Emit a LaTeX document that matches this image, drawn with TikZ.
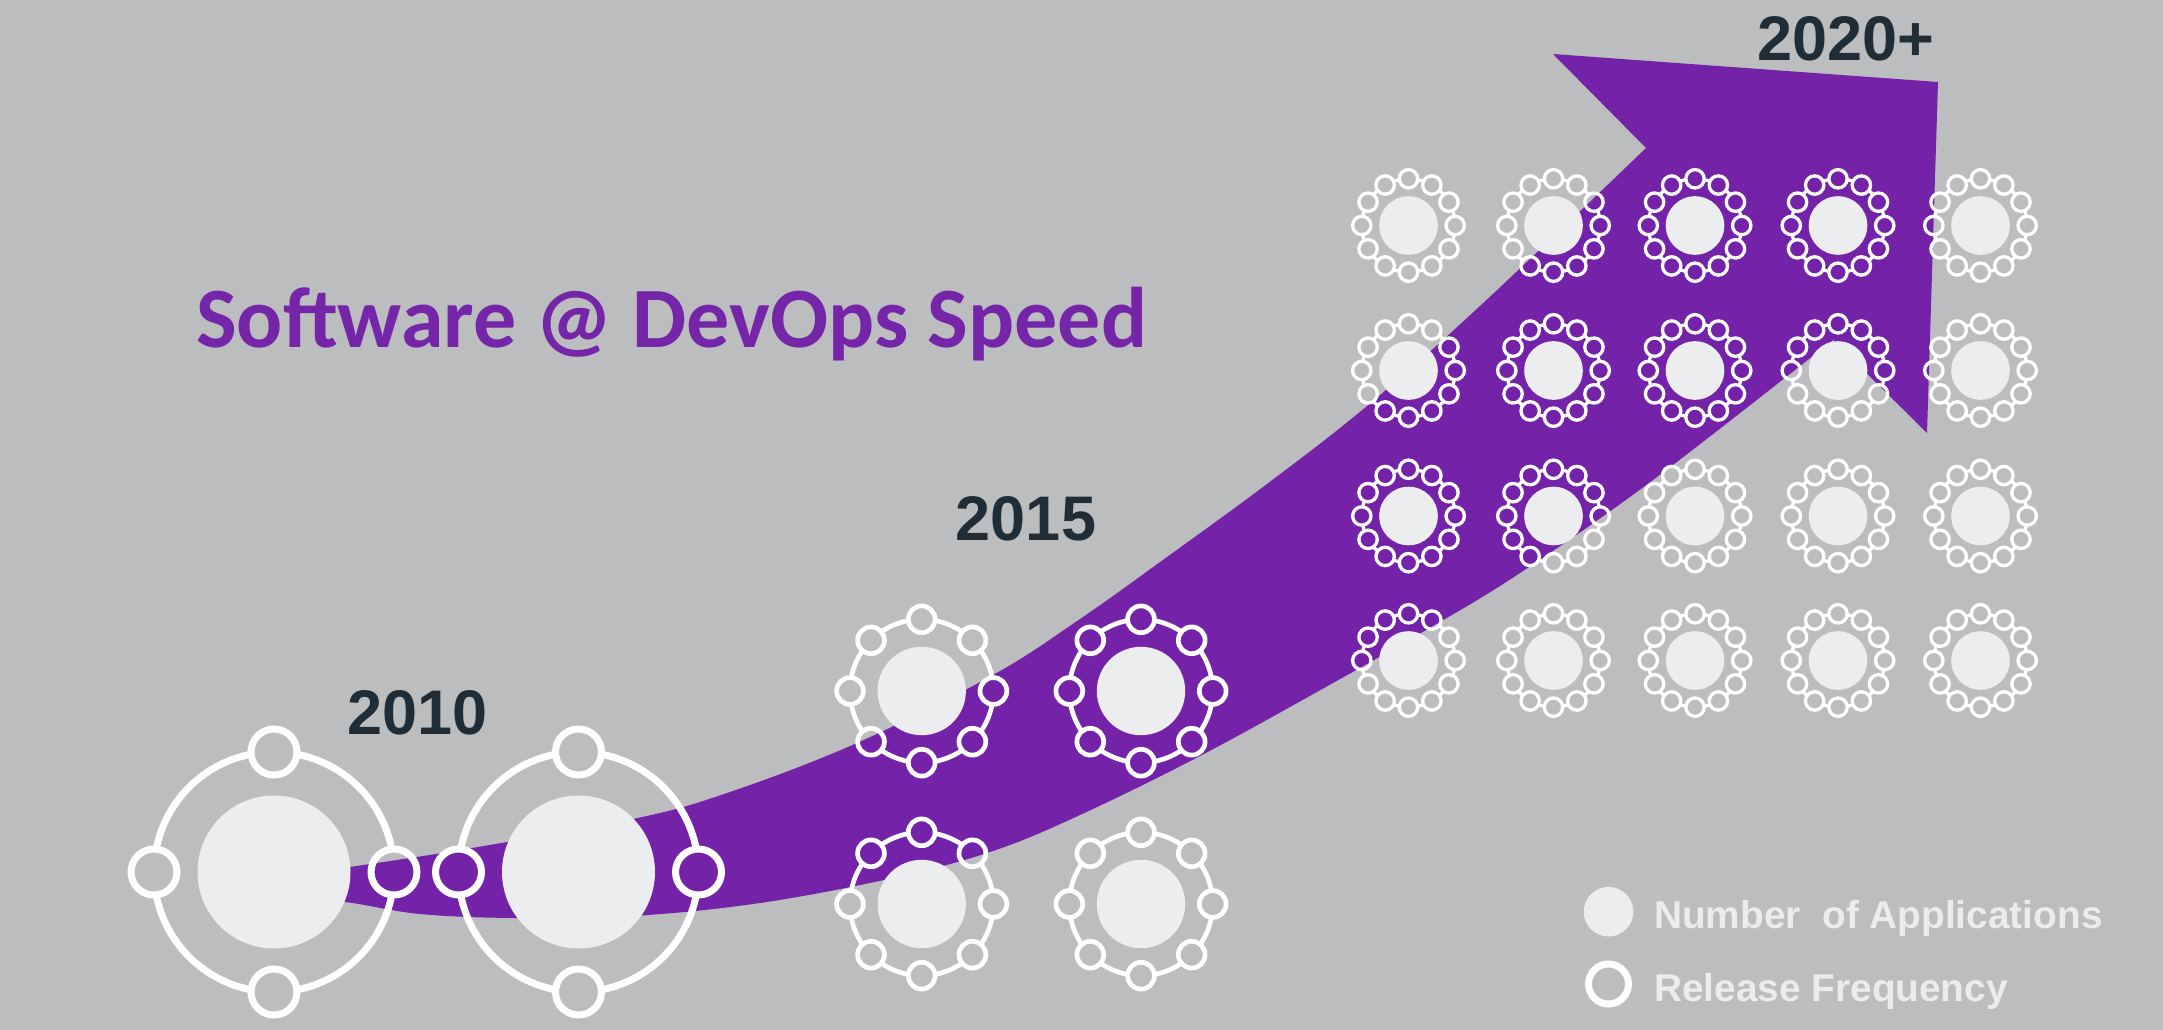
\documentclass[tikz,border=0pt]{standalone}
\usepackage{fontspec}
\setmainfont{Liberation Sans}
\newfontfamily\calib{Carlito}
\definecolor{bg}{RGB}{188,189,191}
\definecolor{apurple}{RGB}{116,35,169}
\definecolor{tpurple}{RGB}{117,38,168}
\definecolor{diskc}{RGB}{236,237,238}
\definecolor{yeartxt}{RGB}{33,45,54}
\definecolor{legtxt}{RGB}{235,236,237}
% name, x, y, N small circles, ring radius, small radius, disk radius, line width
\newcommand\devicon[8]{%
  \coordinate (#1) at (#2,#3);
  \fill[diskc] (#1) circle[radius=#7];
  \pgfmathsetmacro\icstep{360/#4}%
  \pgfmathsetmacro\icgap{2*asin(#6/(2*#5))}%
  \foreach \k in {1,...,#4}{%
    \pgfmathsetmacro\icA{(\k-1)*\icstep+\icgap}%
    \pgfmathsetmacro\icB{\k*\icstep-\icgap}%
    \pgfmathsetmacro\icC{\k*\icstep}%
    \draw[ringline,line width=#8] (#1) ++(\icA:#5) arc[start angle=\icA,end angle=\icB,radius=#5];
    \draw[ringline,line width=#8] (#1) ++(\icC:#5) circle[radius=#6];
  }%
}
\tikzset{
  ringline/.style={draw=white},
  yearlbl/.style={anchor=base,inner sep=0pt,text=yeartxt,font=\bfseries\fontsize{63}{63}\selectfont},
  leglbl/.style={anchor=base west,inner sep=0pt,text=legtxt,font=\bfseries\fontsize{38.8}{40}\selectfont},
}
\begin{document}
\begin{tikzpicture}[x=1pt,y=-1pt]
\useasboundingbox (0,0) rectangle (2163,1030);
\fill[bg] (0,0) rectangle (2163,1030);
% big curved arrow
\fill[apurple]
  plot[smooth,tension=0.6] coordinates {(260,881) (350,867) (460,850) (633,819) (727,793) (857,743) (993,675) (1080,619) (1167,557) (1267,484) (1367,406) (1480,306) (1646,148)}
  -- (1553,54) -- (1938,82) -- (1927,433) -- (1833,340)
  -- plot[smooth,tension=0.6] coordinates {(1833,340) (1653,480) (1520,573) (1433,626) (1333,683) (1200,756) (1080,815) (993,851) (893,878) (760,903) (633,916) (515,918) (420,914) (345,902) (260,894)}
  -- cycle;
% 2010 icons
\devicon{a1}{274}{872}{4}{120}{23}{76.5}{7pt}
\devicon{a2}{578.5}{872}{4}{120}{23}{76.5}{7pt}
% 2015 icons
\devicon{b1}{921.7}{691}{8}{71.7}{13.4}{44.2}{4.7pt}
\devicon{b2}{1141}{691}{8}{71.7}{13.4}{44.2}{4.7pt}
\devicon{b3}{921.7}{904}{8}{71.7}{13.4}{44.2}{4.7pt}
\devicon{b4}{1141}{904}{8}{71.7}{13.4}{44.2}{4.7pt}
% 2020 grid
\foreach \i/\cx in {1/1408.5,2/1553.5,3/1695,4/1838,5/1980.5}{
  \foreach \j/\cy in {1/225.5,2/370.5,3/516,4/660.5}{
    \devicon{c\i\j}{\cx}{\cy}{12}{46.7}{9.2}{29.3}{3.3pt}
  }
}
% title and years
\node[anchor=base west,inner sep=0pt,text=tpurple,font=\calib\bfseries\fontsize{86}{86}\selectfont] (title) at (196,347) {Software @ DevOps Speed};
\node[yearlbl] (y2010) at (417.5,734) {2010};
\node[yearlbl] (y2015) at (1026,540.7) {2015};
\node[yearlbl] (y2020) at (1845.8,61) {2020+};
% legend
\fill[diskc] (1608.5,911.7) circle[radius=24.8];
\draw[ringline,line width=7pt] (1608.5,984) circle[radius=20];
\node[leglbl] (lgapps) at (1654,928.3) {Number~~of Applications};
\node[leglbl] (lgrel) at (1654,1001.7) {Release Frequency};
\end{tikzpicture}
\end{document}
